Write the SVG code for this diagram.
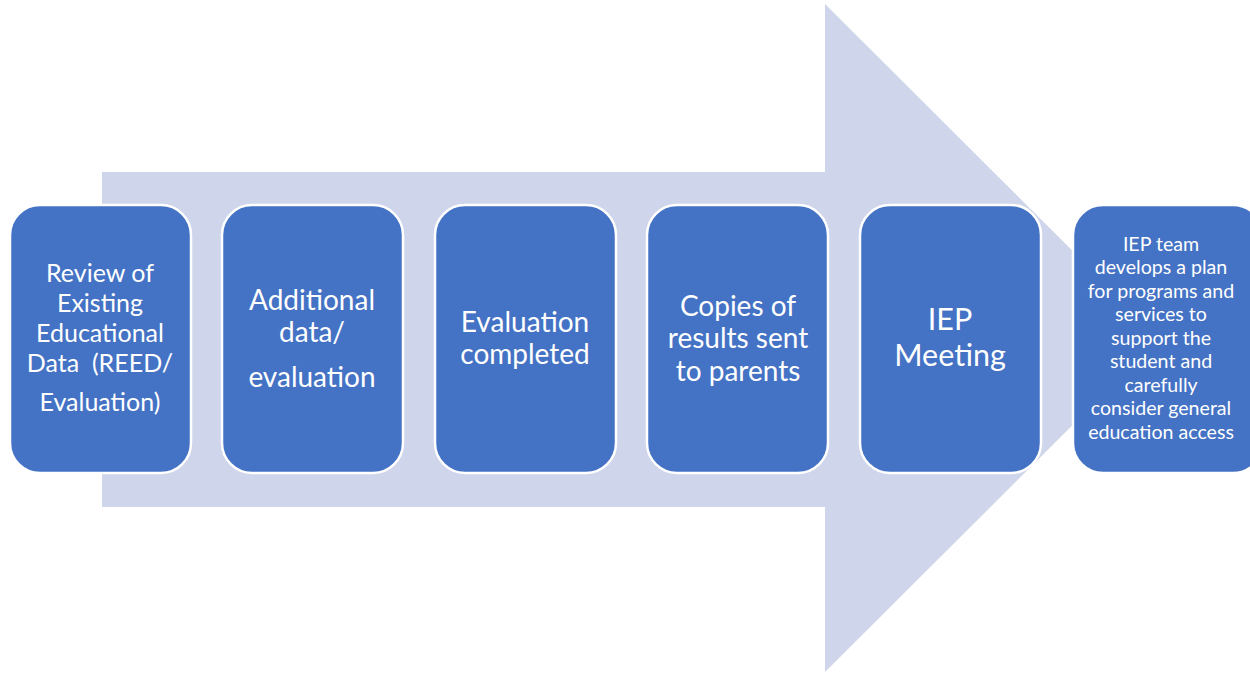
<svg xmlns="http://www.w3.org/2000/svg" width="1250" height="673" viewBox="0 0 1250 673">
  <style>
    .step { fill: #4472C4; stroke: #FFFFFF; stroke-width: 2.5; }
    .lbl { fill: #FFFFFF; font-family: Lato, "Open Sans", "Liberation Sans", sans-serif; text-anchor: middle; }
    .s23 { font-size: 25px; }
    .s26 { font-size: 28px; }
    .s29 { font-size: 30.5px; }
    .small { font-size: 19.6px; }
  </style>
  <rect width="1250" height="673" fill="#FFFFFF"/>
  <!-- background process arrow -->
  <g id="connectors">
    <path d="M102 172 H825 V4 L1160 338 L825 672 V507 H102 Z" fill="#CFD5EA"/>
  </g>
  <g id="step1">
    <rect class="step" x="10" y="205" width="181" height="268" rx="30"/>
    <text class="lbl s23" x="100" y="282">Review of</text>
    <text class="lbl s23" x="100" y="312">Existing</text>
    <text class="lbl s23" x="100" y="342">Educational</text>
    <text class="lbl s23" x="100" y="372" xml:space="preserve">Data  (REED/</text>
    <text class="lbl s23" x="100" y="411">Evaluation)</text>
  </g>
  <g id="step2">
    <rect class="step" x="222" y="205" width="181" height="268" rx="30"/>
    <text class="lbl s26" x="312" y="310">Additional</text>
    <text class="lbl s26" x="312" y="342">data/</text>
    <text class="lbl s26" x="312" y="387">evaluation</text>
  </g>
  <g id="step3">
    <rect class="step" x="435" y="205" width="181" height="268" rx="30"/>
    <text class="lbl s26" x="525" y="332">Evaluation</text>
    <text class="lbl s26" x="525" y="364">completed</text>
  </g>
  <g id="step4">
    <rect class="step" x="647" y="205" width="181" height="268" rx="30"/>
    <text class="lbl s26" x="738" y="316">Copies of</text>
    <text class="lbl s26" x="738" y="348">results sent</text>
    <text class="lbl s26" x="738" y="381">to parents</text>
  </g>
  <g id="step5">
    <rect class="step" x="860" y="205" width="181" height="268" rx="30"/>
    <text class="lbl s29" x="950" y="330">IEP</text>
    <text class="lbl s29" x="950" y="366">Meeting</text>
  </g>
  <g id="step6">
    <rect class="step" x="1073" y="205" width="190" height="268" rx="30"/>
    <text class="lbl small" x="1161" y="251">IEP team</text>
    <text class="lbl small" x="1161" y="274">develops a plan</text>
    <text class="lbl small" x="1161" y="298">for programs and</text>
    <text class="lbl small" x="1161" y="321">services to</text>
    <text class="lbl small" x="1161" y="345">support the</text>
    <text class="lbl small" x="1161" y="368">student and</text>
    <text class="lbl small" x="1161" y="392">carefully</text>
    <text class="lbl small" x="1161" y="415">consider general</text>
    <text class="lbl small" x="1161" y="439">education access</text>
  </g>
</svg>
